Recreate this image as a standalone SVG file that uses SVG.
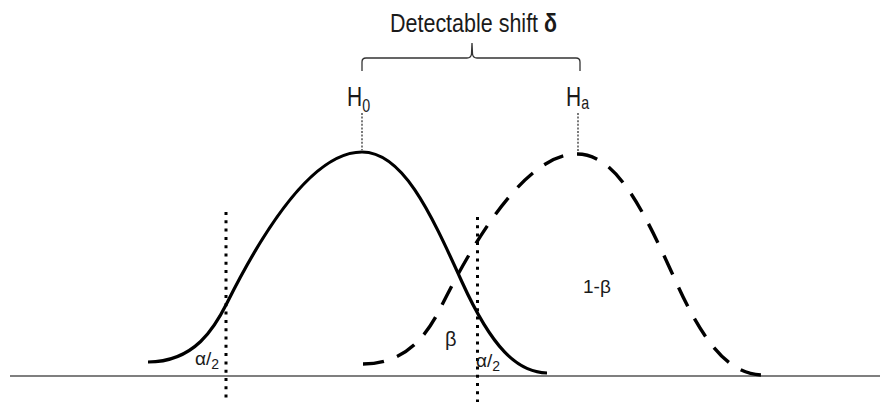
<svg xmlns="http://www.w3.org/2000/svg" width="889" height="402" viewBox="0 0 889 402">
<style>
.txt{font-family:"Liberation Sans","Arial",sans-serif;fill:#1a1a1a}
.curve{fill:none;stroke:#000;stroke-width:3.2;stroke-linecap:butt;stroke-linejoin:round}
.dots{fill:none;stroke:#000;stroke-width:3;stroke-dasharray:3 5.3}
.guide{fill:none;stroke:#222;stroke-width:1.2;stroke-dasharray:2 1.6}
</style>
<defs>
<path id="bell" d="M148,362 C195,362 215,327 227,303 C262,233 312,152 362,152 C402,152 429,209 462,282 C492,348 517,372 547,373"/>
</defs>
<rect width="889" height="402" fill="#fff"/>
<line x1="10" y1="376" x2="880" y2="376" stroke="#555" stroke-width="1.5"/>
<g id="h0-curve">
<use href="#bell" class="curve"/>
</g>
<g id="ha-curve">
<use href="#bell" class="curve" transform="translate(215,2)" style="stroke-dasharray:21 14;stroke-width:3.4"/>
</g>
<g id="critical-lines">
<line class="dots" x1="226" y1="212" x2="226" y2="402"/>
<line class="dots" x1="477.5" y1="217" x2="477.5" y2="402"/>
</g>
<g id="bracket">
<path d="M362,71 L362,62 Q362,58 366,58 L467,58 Q471,58 471.5,54 L472,43 L472.5,54 Q473,58 477,58 L576,58 Q580,58 580,62 L580,71" fill="none" stroke="#333" stroke-width="1.3"/>
<text class="txt" font-size="25" transform="translate(390,32) scale(0.86,1)">Detectable shift <tspan font-weight="bold">δ</tspan></text>
</g>
<g id="h0">
<line class="guide" x1="362" y1="113" x2="362" y2="150"/>
<text class="txt" font-size="28" transform="translate(347,106) scale(0.75,1)">H<tspan font-size="19" dy="6">0</tspan></text>
</g>
<g id="ha">
<line class="guide" x1="578" y1="113" x2="578" y2="153"/>
<text class="txt" font-size="28" transform="translate(566,106) scale(0.75,1)">H<tspan font-size="19" dy="3">a</tspan></text>
</g>
<g id="labels">
<text class="txt" font-size="19" x="195" y="365">α<tspan>/</tspan><tspan font-size="14" dy="4">2</tspan></text>
<text class="txt" font-size="19" x="476" y="367">α<tspan>/</tspan><tspan font-size="14" dy="4">2</tspan></text>
<text class="txt" font-size="20" x="445" y="346">β</text>
<text class="txt" font-size="19" x="583" y="293">1-β</text>
</g>
</svg>
